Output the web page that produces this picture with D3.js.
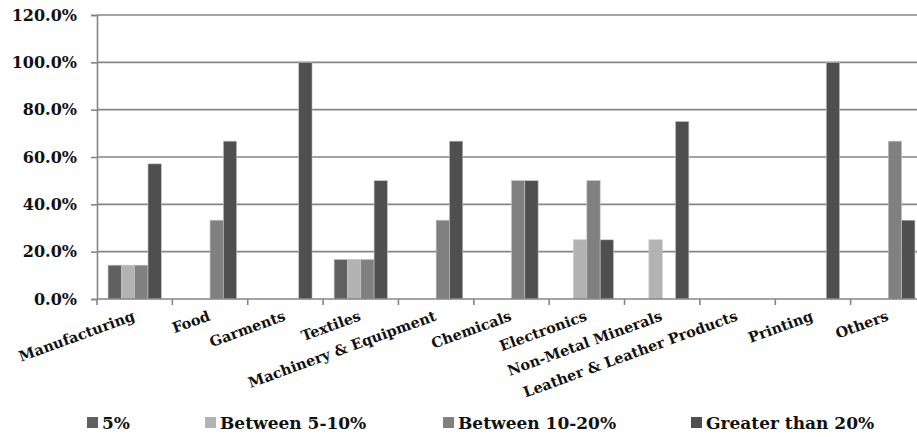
<!DOCTYPE html>
<html>
<head>
<meta charset="utf-8">
<script src="https://cdn.jsdelivr.net/npm/d3@7/dist/d3.min.js"></script>
<style>
  html, body { margin: 0; padding: 0; background: #fff; }
  svg { display: block; font-family: "DejaVu Serif", serif; }
</style>
</head>
<body>
<svg id="chart" width="917" height="437"></svg>
<script>
// Sectors along the x axis
const categories = ["Manufacturing", "Food", "Garments", "Textiles", "Machinery & Equipment",
  "Chemicals", "Electronics", "Non-Metal Minerals", "Leather & Leather Products", "Printing", "Others"];

// Share of firms (%) in each band, one array per series
const seriesNames = ["5%", "Between 5-10%", "Between 10-20%", "Greater than 20%"];
const s5       = [14.3,  0,    0,   16.7,  0,    0,  0,  0,  0,   0,    0];
const s5to10   = [14.3,  0,    0,   16.7,  0,    0, 25, 25,  0,   0,    0];
const s10to20  = [14.3, 33.3,  0,   16.7, 33.3, 50, 50,  0,  0,   0, 66.7];
const sOver20  = [57.1, 66.7, 100,  50,   66.7, 50, 25, 75,  0, 100, 33.3];
const yTicks = [0, 20, 40, 60, 80, 100, 120];

const seriesValues = [s5, s5to10, s10to20, sOver20];
const colors = ["#606060", "#b3b3b3", "#808080", "#4f4f4f"];

const svg = d3.select("#chart");
const plot = { left: 97, top: 15, right: 926, bottom: 299 };

const x = d3.scaleBand().domain(categories).range([plot.left, plot.right]).paddingInner(0).paddingOuter(0);
const xi = d3.scaleBand().domain(d3.range(seriesNames.length)).range([0, x.bandwidth()])
  .paddingOuter(0.83).paddingInner(0);
const y = d3.scaleLinear().domain([0, 120]).range([plot.bottom, plot.top]);

// Horizontal gridlines
svg.append("g").selectAll("line").data(yTicks.filter(d => d > 0)).join("line")
  .attr("x1", plot.left).attr("x2", plot.right)
  .attr("y1", d => y(d)).attr("y2", d => y(d))
  .attr("stroke", "#868686").attr("stroke-width", 1.6);

// Bars
const groups = svg.append("g").selectAll("g").data(categories).join("g")
  .attr("transform", d => `translate(${x(d)},0)`);
groups.selectAll("rect")
  .data((c, i) => seriesValues.map((vals, s) => ({ s, v: vals[i] })))
  .join("rect")
  .filter(d => d.v > 0)
  .attr("x", d => xi(d.s))
  .attr("width", xi.bandwidth())
  .attr("y", d => y(d.v))
  .attr("height", d => y(0) - y(d.v))
  .attr("fill", d => colors[d.s])
  .attr("stroke", "#c4c4c4").attr("stroke-width", 0.6);

// Y axis
const yAxis = d3.axisLeft(y).tickValues(yTicks).tickSize(6).tickPadding(14)
  .tickFormat(d => d.toFixed(1) + "%");
const gy = svg.append("g").attr("transform", `translate(${plot.left},0)`).call(yAxis);
gy.select(".domain").attr("stroke", "#868686").attr("stroke-width", 1.6);
gy.selectAll(".tick line").attr("stroke", "#868686").attr("stroke-width", 1.6);
gy.selectAll(".tick text").attr("font-family", "DejaVu Serif").attr("font-weight", "bold")
  .attr("font-size", 16).attr("fill", "#111");

// X axis with ticks at band boundaries
const gx = svg.append("g");
gx.append("line").attr("x1", plot.left).attr("x2", plot.right)
  .attr("y1", y(0)).attr("y2", y(0)).attr("stroke", "#868686").attr("stroke-width", 1.6);
gx.selectAll("line.tk").data(categories).join("line").attr("class", "tk")
  .attr("x1", d => x(d)).attr("x2", d => x(d))
  .attr("y1", y(0)).attr("y2", y(0) + 6)
  .attr("stroke", "#868686").attr("stroke-width", 1.6);
gx.selectAll("text").data(categories).join("text")
  .attr("transform", d => `translate(${x(d) + x.bandwidth() / 2 + 1},320) rotate(-20)`)
  .attr("text-anchor", "end")
  .attr("font-family", "DejaVu Serif").attr("font-weight", "bold").attr("font-size", 14.5)
  .attr("fill", "#111")
  .text(d => d);

// Legend
const legendX = [87, 205, 443, 691];
const legend = svg.append("g").selectAll("g").data(seriesNames).join("g")
  .attr("transform", (d, i) => `translate(${legendX[i]},417)`);
legend.append("rect").attr("width", 11).attr("height", 11)
  .attr("fill", (d, i) => colors[i]);
legend.append("text").attr("x", 15).attr("y", 11.5)
  .attr("font-family", "DejaVu Serif").attr("font-weight", "bold").attr("font-size", 17)
  .attr("fill", "#111")
  .text(d => d);
</script>
</body>
</html>
